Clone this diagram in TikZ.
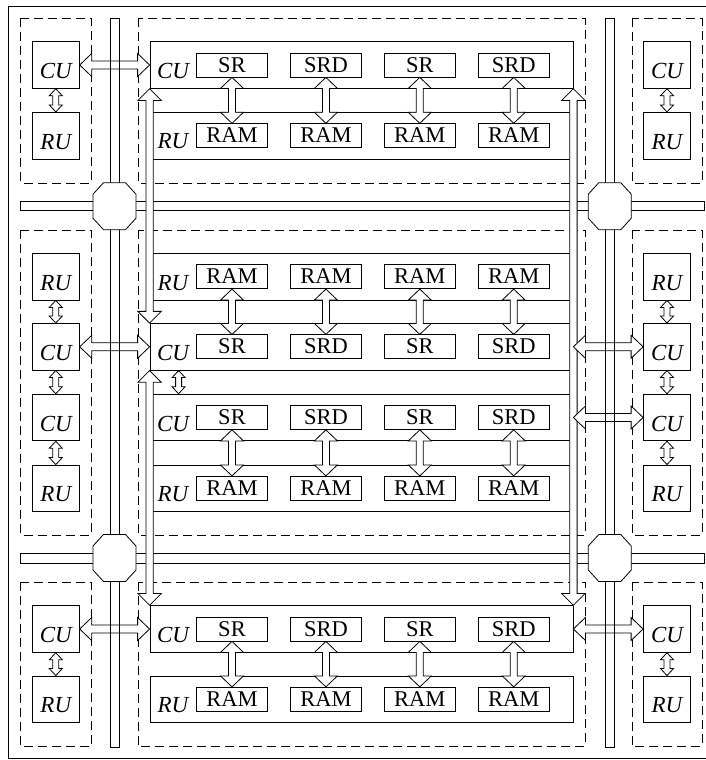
\documentclass[tikz,border=0pt]{standalone}
\usepackage{fontspec}
\setmainfont{Liberation Serif}
\usetikzlibrary{calc}
\tikzset{
  dbox/.style={draw, dash pattern=on 9pt off 5pt},
  rowbox/.style={draw, minimum width=423pt, minimum height=46.7pt, inner sep=0pt},
  sidebox/.style={draw, minimum width=47pt, minimum height=46.7pt, inner sep=0pt,
    font=\fontsize{23}{24}\selectfont\itshape, text height=27pt, text depth=0pt},
  membox/.style={draw, minimum width=71pt, minimum height=24pt, inner sep=0pt,
    font=\fontsize{22.5}{24}\selectfont, text height=14pt, text depth=0pt},
  rowlabel/.style={anchor=base, inner sep=0pt, font=\fontsize{23}{24}\selectfont\itshape},
  arr/.style={draw, fill=white},
  busline/.style={draw},
  octo/.style={draw, fill=white}
}
% vertical double arrow: #1 top point, #2 bottom point, #3 head half width, #4 shaft half width, #5 head length
\newcommand\vdarr[5]{\path[arr] let \p1=(#1), \p2=(#2) in
  (\x1,\y1) -- (\x1-#3,\y1-#5) -- (\x1-#4,\y1-#5) -- (\x1-#4,\y2+#5) -- (\x1-#3,\y2+#5)
  -- (\x1,\y2) -- (\x1+#3,\y2+#5) -- (\x1+#4,\y2+#5) -- (\x1+#4,\y1-#5) -- (\x1+#3,\y1-#5) -- cycle;}
% horizontal double arrow: #1 left point, #2 right point
\newcommand\hdarr[5]{\path[arr] let \p1=(#1), \p2=(#2) in
  (\x1,\y1) -- (\x1+#5,\y1+#3) -- (\x1+#5,\y1+#4) -- (\x2-#5,\y1+#4) -- (\x2-#5,\y1+#3)
  -- (\x2,\y1) -- (\x2-#5,\y1-#3) -- (\x2-#5,\y1-#4) -- (\x1+#5,\y1-#4) -- (\x1+#5,\y1-#3) -- cycle;}
\newcommand\octagon[1]{\path[octo] (#1) ++(-11,-23.5) -- ++(22,0) -- ++(10.5,11.5) -- ++(0,24)
  -- ++(-10.5,11.5) -- ++(-22,0) -- ++(-10.5,-11.5) -- ++(0,-24) -- cycle;}
\begin{document}
\begin{tikzpicture}[x=1pt,y=-1pt,line width=0.8pt]
\useasboundingbox (0,0) rectangle (705,760);
\draw (8,6) rectangle (712,758.3);
% dashed groups
\foreach \ya/\yb in {18.3/183, 230/535, 582/746.7} {
  \draw[dbox] (20.7,\ya) rectangle (91,\yb);
  \draw[dbox] (138,\ya) rectangle (585,\yb);
  \draw[dbox] (632,\ya) rectangle (702,\yb);
}
% panel rows
\node[rowbox] (tcu) at (361.5,65) {};
\node[rowbox] (tru) at (361.5,135.7) {};
\node[rowbox] (aru) at (361.5,276.7) {};
\node[rowbox] (acu) at (361.5,346.8) {};
\node[rowbox] (bcu) at (361.5,417.5) {};
\node[rowbox] (bru) at (361.5,488.3) {};
\node[rowbox] (ccu) at (361.5,629) {};
\node[rowbox] (cru) at (361.5,699.3) {};
% row labels
\node[rowlabel] (ltcu) at (173,78.5) {CU};
\node[rowlabel] (ltru) at (173,148.9) {RU};
\node[rowlabel] (laru) at (173,290.2) {RU};
\node[rowlabel] (lacu) at (173,360.3) {CU};
\node[rowlabel] (lbcu) at (173,431) {CU};
\node[rowlabel] (lbru) at (173,501.8) {RU};
\node[rowlabel] (lccu) at (173,642.5) {CU};
\node[rowlabel] (lcru) at (173,712.8) {RU};
% memory boxes
\foreach \i/\t in {1/SR,2/SRD,3/SR,4/SRD} {
  \pgfmathsetmacro\xx{232+93.9*(\i-1)}
  \node[membox] (t\i) at (\xx,65) {\t};
  \node[membox] (tr\i) at (\xx,135.7) {RAM};
  \node[membox] (ar\i) at (\xx,276.7) {RAM};
  \node[membox] (ac\i) at (\xx,346.8) {\t};
  \node[membox] (bc\i) at (\xx,417.5) {\t};
  \node[membox] (br\i) at (\xx,488.3) {RAM};
  \node[membox] (cc\i) at (\xx,629) {\t};
  \node[membox] (cr\i) at (\xx,699.3) {RAM};
}
% side boxes
\foreach \x/\s in {55.8/l, 667/r} {
  \node[sidebox] (\s1cu) at (\x,65) {CU};
  \node[sidebox] (\s1ru) at (\x,135.7) {RU};
  \node[sidebox] (\s2ru) at (\x,276.7) {RU};
  \node[sidebox] (\s2cu) at (\x,346.8) {CU};
  \node[sidebox] (\s2cv) at (\x,417.5) {CU};
  \node[sidebox] (\s2rv) at (\x,488.3) {RU};
  \node[sidebox] (\s3cu) at (\x,629) {CU};
  \node[sidebox] (\s3ru) at (\x,699.3) {RU};
}
% horizontal buses
\draw[busline] (20.7,201.7) rectangle (704,210.7);
\draw[busline] (20.7,553) rectangle (704,563);
% long vertical arrows
\vdarr{tcu.south west}{acu.north west}{11.7pt}{3.7pt}{11.7pt}
\vdarr{acu.south west}{ccu.north west}{11.7pt}{3.7pt}{11.7pt}
\vdarr{tcu.south east}{ccu.north east}{11.7pt}{3.7pt}{11.7pt}
% horizontal arrows
\hdarr{l1cu.east}{tcu.west}{11.5pt}{4pt}{12pt}
\hdarr{l2cu.east}{acu.west}{11.5pt}{4pt}{12pt}
\hdarr{acu.east}{r2cu.west}{11.5pt}{4pt}{12pt}
\hdarr{bcu.east}{r2cv.west}{11.5pt}{4pt}{12pt}
\hdarr{l3cu.east}{ccu.west}{11.5pt}{4pt}{12pt}
\hdarr{ccu.east}{r3cu.west}{11.5pt}{4pt}{12pt}
% vertical buses
\draw[busline] (110,18.3) rectangle (119,747);
\draw[busline] (605,18.3) rectangle (614,747);
% routers
\octagon{114.5,206.2}
\octagon{609.8,206.2}
\octagon{114.5,558}
\octagon{609.8,558}
% memory arrows
\foreach \i in {1,...,4} {
  \vdarr{t\i.south}{tr\i.north}{11.5pt}{3.5pt}{11pt}
  \vdarr{ar\i.south}{ac\i.north}{11.5pt}{3.5pt}{11pt}
  \vdarr{bc\i.south}{br\i.north}{11.5pt}{3.5pt}{11pt}
  \vdarr{cc\i.south}{cr\i.north}{11.5pt}{3.5pt}{11pt}
}
% small arrows in side columns
\foreach \s in {l,r} {
  \vdarr{\s1cu.south}{\s1ru.north}{6.5pt}{3pt}{7pt}
  \vdarr{\s2ru.south}{\s2cu.north}{6.5pt}{3pt}{7pt}
  \vdarr{\s2cu.south}{\s2cv.north}{6.5pt}{3pt}{7pt}
  \vdarr{\s2cv.south}{\s2rv.north}{6.5pt}{3pt}{7pt}
  \vdarr{\s3cu.south}{\s3ru.north}{6.5pt}{3pt}{7pt}
}
\coordinate (sa) at ([xshift=29pt]acu.south west);
\coordinate (sb) at ([xshift=29pt]bcu.north west);
\vdarr{sa}{sb}{6.5pt}{3pt}{7pt}
\end{tikzpicture}
\end{document}
